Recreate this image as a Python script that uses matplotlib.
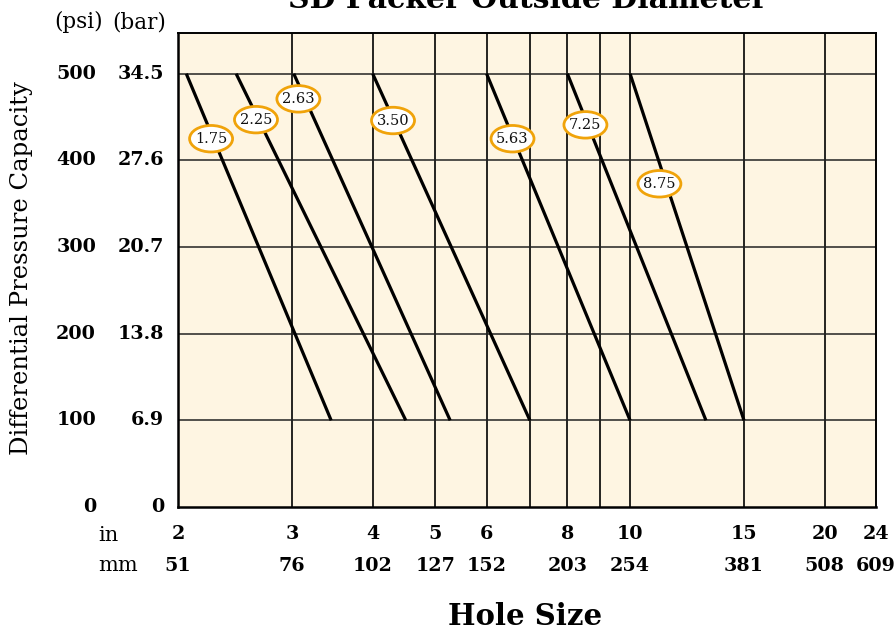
import matplotlib
matplotlib.use("Agg")
import matplotlib.pyplot as plt
from matplotlib.transforms import blended_transform_factory, ScaledTranslation
from matplotlib.patches import Ellipse

# ---- data ----
packer_od = ["1.75", "2.25", "2.63", "3.50", "5.63", "7.25", "8.75"]
hole_at_max_psi = [2.06, 2.46, 3.02, 4.0, 6.0, 8.0, 10.0]    # hole size (in) at 500 psi
hole_at_min_psi = [3.45, 4.50, 5.27, 7.0, 10.0, 13.1, 15.0]  # hole size (in) at 100 psi
psi_max = 500
psi_min = 100
label_x = [2.25, 2.64, 3.07, 4.30, 6.58, 8.53, 11.1]
label_y = [425, 447, 471, 446, 425, 441, 373]

psi_ticks = [0, 100, 200, 300, 400, 500]
bar_ticks = ["0", "6.9", "13.8", "20.7", "27.6", "34.5"]
in_ticks = [2, 3, 4, 5, 6, 8, 10, 15, 20, 24]
mm_ticks = ["51", "76", "102", "127", "152", "203", "254", "381", "508", "609"]
grid_x = [3, 4, 5, 6, 7, 8, 9, 10, 15, 20]
grid_y = [100, 200, 300, 400, 500]

SERIF = ["DejaVu Serif"]
plt.rcParams["font.family"] = SERIF

fig = plt.figure(figsize=(8.96, 6.30), dpi=100)
ax = fig.add_axes([178/896, 1-507/630, (876-178)/896, (507-33)/630])
ax.set_facecolor("#FEF5E2")
ax.set_xscale("log")
ax.set_xlim(2, 24)
ax.set_ylim(0, 547)
ax.set_xticks([]); ax.set_yticks([])
ax.minorticks_off()
ax.tick_params(which="both", length=0, labelbottom=False, labelleft=False)

for gx in grid_x:
    ax.axvline(gx, color="black", lw=1.2, zorder=1)
for gy in grid_y:
    ax.axhline(gy, color="#222222", lw=1.1, zorder=1)

for s in ax.spines.values():
    s.set_linewidth(1.4)
    s.set_color("black")
ax.spines["left"].set_linewidth(1.8)
ax.spines["bottom"].set_linewidth(1.8)

for x0, x1 in zip(hole_at_max_psi, hole_at_min_psi):
    ax.plot([x0, x1], [psi_max, psi_min], color="black", lw=2.3,
            solid_capstyle="butt", zorder=3)

for lab, lx, ly in zip(packer_od, label_x, label_y):
    trans = fig.dpi_scale_trans + ScaledTranslation(lx, ly, ax.transData)
    ax.add_patch(Ellipse((0, 0), 0.43, 0.265, transform=trans, fc="white",
                         ec="#F0A30A", lw=2.0, zorder=4))
    ax.text(lx, ly, lab, ha="center", va="center", fontsize=10.5, zorder=5,
            color="#111111")

# y tick labels (two columns)
ty = blended_transform_factory(fig.transFigure, ax.transData)
for p, b in zip(psi_ticks, bar_ticks):
    fig.text(96/896, p, str(p), transform=ty, ha="right", va="center",
             fontsize=13.8, fontweight="bold")
    fig.text(164/896, p, b, transform=ty, ha="right", va="center",
             fontsize=13.8, fontweight="bold")
fig.text(79/896, 1-22/630, "(psi)", ha="center", va="center", fontsize=15.5)
fig.text(139/896, 1-22/630, "(bar)", ha="center", va="center", fontsize=15.5)

# x tick labels (two rows)
tx = blended_transform_factory(ax.transData, fig.transFigure)
for i, m in zip(in_ticks, mm_ticks):
    fig.text(i, 1-539/630, str(i), transform=tx, ha="center", va="baseline",
             fontsize=13.8, fontweight="bold")
    fig.text(i, 1-571/630, m, transform=tx, ha="center", va="baseline",
             fontsize=13.8, fontweight="bold")
fig.text(98/896, 1-541/630, "in", ha="left", va="baseline", fontsize=15)
fig.text(98/896, 1-571/630, "mm", ha="left", va="baseline", fontsize=15)

fig.text(22/896, 1-268/630, "Differential Pressure Capacity", rotation=90,
         ha="center", va="center", fontsize=17.5)
fig.text(525/896, 1-625/630, "Hole Size", ha="center", va="baseline",
         fontsize=21, fontweight="bold")
fig.text(528/896, 1-8/630, "SD Packer Outside Diameter", ha="center",
         va="baseline", fontsize=21.5, fontweight="bold")

fig.savefig("out.png", dpi=100)
